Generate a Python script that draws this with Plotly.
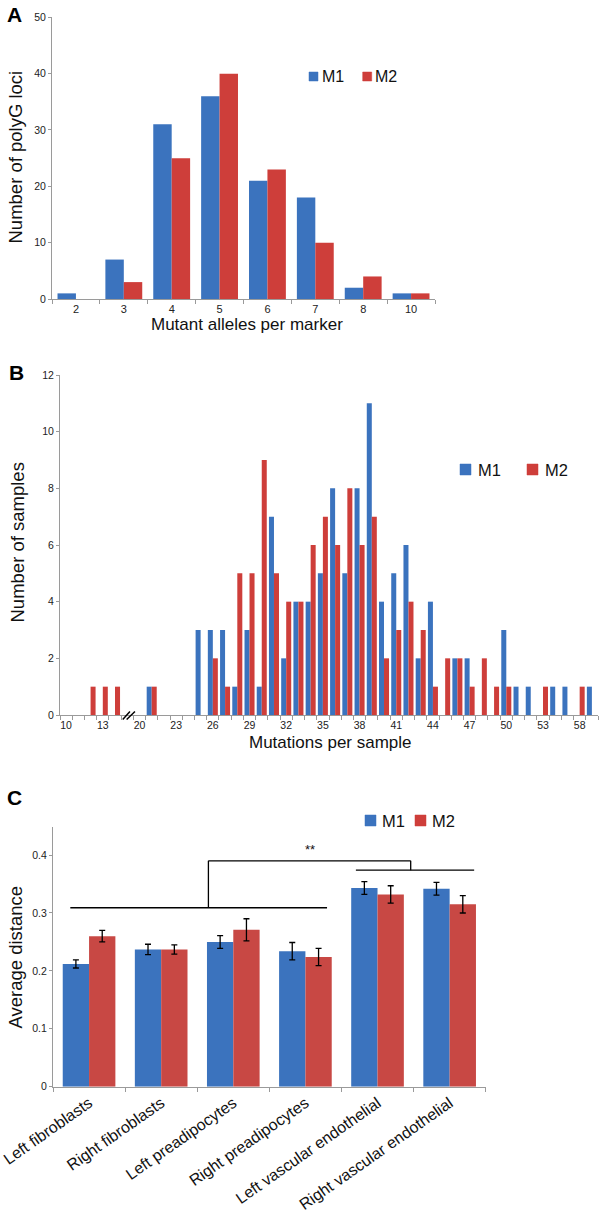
import plotly.graph_objects as go

# ---- data ----
a_categories = ["2", "3", "4", "5", "6", "7", "8", "10"]
a_m1 = [1, 7, 31, 36, 21, 18, 2, 1]
a_m2 = [0, 3, 25, 40, 23, 10, 4, 1]

b_categories = ["10", "11", "12", "13", "14", "15"] + [str(v) for v in range(20, 54)] + ["54", "56", "58", "59"]
b_m1 = [0, 0, 0, 0, 0, 0,
        0, 1, 0, 0, 0, 3, 3, 3, 1, 3, 1, 7, 2, 4, 4, 5, 8, 5, 8, 11,
        4, 5, 6, 2, 4, 0, 2, 2, 0, 0, 3, 1, 1, 0,
        1, 1, 0, 1]
b_m2 = [0, 0, 1, 1, 1, 0,
        0, 1, 0, 0, 0, 0, 2, 1, 5, 5, 9, 5, 4, 4, 6, 7, 6, 8, 6, 7,
        2, 3, 4, 3, 1, 2, 2, 1, 2, 1, 1, 0, 0, 1,
        0, 0, 1, 0]
b_tick_labels = ["10", "13", "20", "23", "26", "29", "32", "35", "38", "41", "44", "47", "50", "53", "58"]

c_categories = ["Left fibroblasts", "Right fibroblasts", "Left preadipocytes",
                "Right preadipocytes", "Left vascular endothelial", "Right vascular endothelial"]
c_m1 = [0.212, 0.237, 0.250, 0.234, 0.343, 0.342]
c_m2 = [0.260, 0.237, 0.271, 0.224, 0.332, 0.315]
c_m1_err = [0.007, 0.009, 0.011, 0.015, 0.011, 0.011]
c_m2_err = [0.010, 0.008, 0.019, 0.015, 0.015, 0.015]

BLUE = "rgb(59,115,190)"
RED = "rgb(206,62,58)"
AX = "#9a9a9a"
FONT = "Arial, Liberation Sans, sans-serif"
W, H = 600, 1226


def px(v):
    return v / W


def py(v):
    return 1 - v / H


fig = go.Figure()

# panel A
fig.add_bar(x=a_categories, y=a_m1, marker=dict(color=BLUE, line=dict(width=0)),
            xaxis="x", yaxis="y", showlegend=False)
fig.add_bar(x=a_categories, y=a_m2, marker=dict(color=RED, line=dict(width=0)),
            xaxis="x", yaxis="y", showlegend=False)

# panel B
b_x = list(range(len(b_categories)))
fig.add_bar(x=b_x, y=b_m1, marker=dict(color=BLUE, line=dict(width=0)),
            xaxis="x2", yaxis="y2", showlegend=False, width=0.41, offset=-0.41)
fig.add_bar(x=b_x, y=b_m2, marker=dict(color=RED, line=dict(width=0)),
            xaxis="x2", yaxis="y2", showlegend=False, width=0.41, offset=0.0)

# panel C
fig.add_bar(x=c_categories, y=c_m1, marker=dict(color=BLUE, line=dict(width=0)),
            error_y=dict(type="data", array=c_m1_err, color="black", thickness=1.3, width=3),
            xaxis="x3", yaxis="y3", showlegend=False, width=0.365, offset=-0.365)
fig.add_bar(x=c_categories, y=c_m2, marker=dict(color="rgb(200,72,68)", line=dict(width=0)),
            error_y=dict(type="data", array=c_m2_err, color="black", thickness=1.3, width=3),
            xaxis="x3", yaxis="y3", showlegend=False, width=0.365, offset=0.0)

axis_common = dict(showline=True, linecolor=AX, linewidth=1, showgrid=False, zeroline=False, automargin=False,
                   ticks="outside", tickcolor=AX, ticklen=4, tickfont=dict(size=11, color="#222"))

fig.update_layout(
    width=W, height=H,
    margin=dict(l=0, r=0, t=0, b=0, autoexpand=False),
    paper_bgcolor="white", plot_bgcolor="white",
    font=dict(family=FONT, color="#111"),
    barmode="group", bargap=0.23, bargroupgap=0,
    xaxis=dict(axis_common, domain=[px(52), px(435)], anchor="y", type="category", tickson="boundaries"),
    yaxis=dict(axis_common, domain=[py(299), py(17.3)], anchor="x", range=[0, 50], dtick=10, ticklen=3,
               tickfont=dict(size=10.5, color="#222")),
    xaxis2=dict(axis_common, domain=[px(60), px(598)], anchor="y2", range=[-0.5, len(b_categories) - 0.5],
                tickmode="array", tickvals=[b_categories.index(t) for t in b_tick_labels], ticktext=b_tick_labels,
                ticks="", tickfont=dict(size=10.5, color="#222"),
                minor=dict(ticks="outside", tick0=-0.5, dtick=1, ticklen=4, tickcolor=AX, showgrid=False)),
    yaxis2=dict(axis_common, domain=[py(715), py(375)], anchor="x2", range=[0, 12], dtick=2, ticklen=3,
                tickfont=dict(size=10.5, color="#222")),
    xaxis3=dict(axis_common, domain=[px(53), px(485.7)], anchor="y3", type="category", tickson="boundaries",
                tickangle=-35, tickfont=dict(size=16, color="#111")),
    yaxis3=dict(axis_common, domain=[py(1086.7), py(826.7)], anchor="x3", range=[0, 0.449], dtick=0.1,
                ticklen=3, tickfont=dict(size=10.5, color="#222")),
)

shapes = []
annotations = []

# panel letters
for letter, (x, y) in {"A": (14.5, 15), "B": (16.5, 372), "C": (14.5, 797)}.items():
    annotations.append(dict(text="<b>%s</b>" % letter, x=px(x), y=py(y), xref="paper", yref="paper",
                            xanchor="center", yanchor="middle",
                            showarrow=False, font=dict(size=21, family=FONT, color="black")))

# axis titles
titles = [
    ("Number of polyG loci", 15, 157.5, -90, 18.5),
    ("Mutant alleles per marker", 247, 325, 0, 17),
    ("Number of samples", 17.5, 543, -90, 18.5),
    ("Mutations per sample", 330, 742, 0, 17),
    ("Average distance", 15, 957.5, -90, 18.5),
]
for text, x, y, ang, size in titles:
    annotations.append(dict(text=text, x=px(x), y=py(y), xref="paper", yref="paper", textangle=ang,
                            xanchor="center", yanchor="middle",
                            showarrow=False, font=dict(size=size, family=FONT, color="#111")))

# legends (square + label)
legends = [
    (309, 72, 9, 320, 76.5, 16),
    (362.7, 72, 9, 373, 76.5, 16),
    (460, 464, 11, 476, 469.5, 16.5),
    (527, 464, 11, 543, 469.5, 16.5),
    (365, 815, 11, 380, 820.5, 16.5),
    (415, 815, 11, 430, 820.5, 16.5),
]
for i, (sx, sy, s, tx, ty, size) in enumerate(legends):
    col = BLUE if i % 2 == 0 else RED
    shapes.append(dict(type="rect", xref="paper", yref="paper", x0=px(sx), x1=px(sx + s), y0=py(sy + s), y1=py(sy),
                       fillcolor=col, line=dict(color=col, width=0.5)))
    annotations.append(dict(text="M1" if i % 2 == 0 else "M2", x=px(tx), y=py(ty), xref="paper", yref="paper",
                            xanchor="left", yanchor="middle", showarrow=False,
                            font=dict(size=size, family=FONT, color="#111")))

# axis break marks in panel B
for x0, x1 in [(4.63, 5.22), (4.95, 5.63)]:
    shapes.append(dict(type="line", xref="x2", yref="paper", x0=x0, x1=x1, y0=py(719.5), y1=py(711.5),
                       line=dict(color="black", width=1.5)))

# significance bracket in panel C
bracket = [(-0.26, 0.309, 3.30, 0.309), (1.655, 0.309, 1.655, 0.39), (1.655, 0.39, 4.46, 0.39),
           (4.46, 0.39, 4.46, 0.374), (3.70, 0.374, 5.34, 0.374)]
for x0, y0, x1, y1 in bracket:
    shapes.append(dict(type="line", xref="x3", yref="y3", x0=x0, y0=y0, x1=x1, y1=y1,
                       line=dict(color="black", width=1.3)))
annotations.append(dict(text="**", x=3.06, y=0.41, xref="x3", yref="y3", showarrow=False,
                        font=dict(size=13, family=FONT, color="#111")))

fig.update_layout(shapes=shapes, annotations=annotations)
fig.write_html("out.html", config={"displayModeBar": False},
               post_script="document.body.style.margin='0px';")
